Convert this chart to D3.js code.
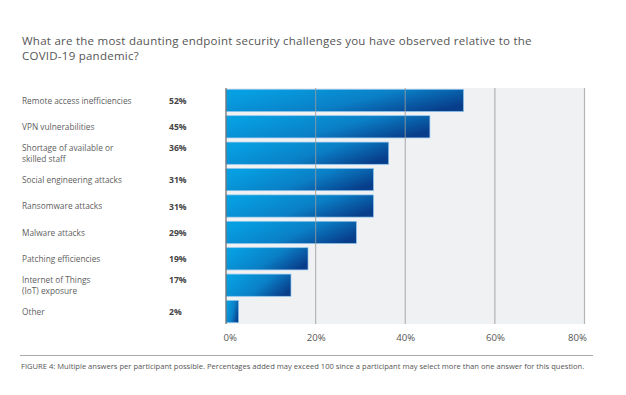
<!DOCTYPE html>
<html>
<head>
<meta charset="utf-8">
<script src="https://cdn.jsdelivr.net/npm/d3@7"></script>
<style>
  body { margin: 0; background: #fff; }
  text { font-family: "Open Sans", sans-serif; }
</style>
</head>
<body>
<div id="chart"></div>
<script>
// categories, shown label lines, printed percents and bar lengths
const categories = [
  ["Remote access inefficiencies"],
  ["VPN vulnerabilities"],
  ["Shortage of available or", "skilled staff"],
  ["Social engineering attacks"],
  ["Ransomware attacks"],
  ["Malware attacks"],
  ["Patching efficiencies"],
  ["Internet of Things", "(IoT) exposure"],
  ["Other"]
];
const pctLabels = ["52%", "45%", "36%", "31%", "31%", "29%", "19%", "17%", "2%"];
const values = [53.0, 45.5, 36.3, 32.9, 32.9, 29.1, 18.3, 14.5, 2.8];
const xTicks = [0, 20, 40, 60, 80];
const titleLines = ["What are the most daunting endpoint security challenges you have observed relative to the", "COVID-19 pandemic?"];

const W = 626, H = 395;
const plot = { left: 226, right: 584.5, top: 88, bottom: 324 };

const svg = d3.select("#chart").append("svg")
  .attr("width", W)
  .attr("height", H);

const defs = svg.append("defs");
const grad = defs.append("linearGradient")
  .attr("id", "barGrad")
  .attr("x1", "0%").attr("y1", "30%")
  .attr("x2", "100%").attr("y2", "70%");
grad.append("stop").attr("offset", "0%").attr("stop-color", "#06a0e2");
grad.append("stop").attr("offset", "55%").attr("stop-color", "#0a7fc6");
grad.append("stop").attr("offset", "100%").attr("stop-color", "#083d8a");

// title, one text per line
svg.selectAll(".title")
  .data(titleLines)
  .enter().append("text")
  .attr("class", "title")
  .attr("x", 22)
  .attr("y", (d, i) => 44.5 + i * 15)
  .attr("fill", "#555")
  .style("font-size", "11.5px")
  .style("letter-spacing", "0.25px")
  .text(d => d);

let x = d3.scaleLinear()
  .domain([0, 80])
  .range([plot.left, plot.right]);

let y = d3.scaleBand()
  .domain(d3.range(categories.length))
  .range([plot.top, plot.bottom])
  .paddingInner(0.16)
  .paddingOuter(0.05);

// plot background
svg.append("rect")
  .attr("x", plot.left).attr("y", plot.top)
  .attr("width", plot.right - plot.left)
  .attr("height", plot.bottom - plot.top)
  .attr("fill", "#f0f1f3");

// bars
svg.selectAll(".bar")
  .data(values)
  .enter().append("rect")
  .attr("class", "bar")
  .attr("x", x(0))
  .attr("y", (d, i) => y(i))
  .attr("width", d => x(d) - x(0))
  .attr("height", y.bandwidth())
  .attr("fill", "url(#barGrad)")
  .attr("stroke", "#8cc4ec")
  .attr("stroke-width", 0.7);

// gridlines drawn over bars
svg.selectAll(".grid")
  .data(xTicks.slice(1))
  .enter().append("line")
  .attr("class", "grid")
  .attr("x1", d => x(d)).attr("x2", d => x(d))
  .attr("y1", plot.top).attr("y2", plot.bottom)
  .attr("stroke", "#9a9a9a")
  .attr("stroke-opacity", 0.7)
  .attr("stroke-width", 1.2);

svg.append("line")
  .attr("x1", x(0)).attr("x2", x(0))
  .attr("y1", plot.top).attr("y2", plot.bottom)
  .attr("stroke", "#6b6b6b")
  .attr("stroke-width", 1.2);

// x axis labels
let xAxis = svg.append("g")
  .attr("transform", "translate(0," + (plot.bottom + 3) + ")")
  .call(d3.axisBottom(x).tickValues(xTicks).tickFormat(d => d + "%").tickSize(0).tickPadding(7));
xAxis.select(".domain").remove();
xAxis.selectAll("text")
  .attr("fill", "#555")
  .style("font-family", "'Open Sans', sans-serif")
  .style("font-size", "9.6px");
xAxis.selectAll(".tick").filter(d => d == 0).select("text")
  .attr("text-anchor", "start").attr("dx", -3);
xAxis.selectAll(".tick").filter(d => d == 80).select("text")
  .attr("text-anchor", "end").attr("dx", 2);

// category labels
let rows = svg.selectAll(".row")
  .data(categories)
  .enter().append("g")
  .attr("class", "row")
  .attr("transform", (d, i) => "translate(0," + (y(i) + y.bandwidth() / 2) + ")");

rows.append("text")
  .attr("x", 22)
  .attr("fill", "#606060")
  .style("font-size", "8.3px")
  .selectAll("tspan")
  .data(d => d.map((t, j) => ({ t: t, j: j, n: d.length })))
  .enter().append("tspan")
  .attr("x", 22)
  .attr("y", d => d.n > 1 ? (d.j ? 6 : -5) : 0.5)
  .attr("dy", "0.35em")
  .text(d => d.t);

rows.append("text")
  .attr("x", 169)
  .attr("y", d => d.length > 1 ? -5 : 0.5)
  .attr("dy", "0.35em")
  .attr("fill", "#444")
  .style("font-size", "8.6px")
  .style("font-weight", "bold")
  .text((d, i) => pctLabels[i]);

// footnote
svg.append("line")
  .attr("x1", 20).attr("x2", 593)
  .attr("y1", 355.5).attr("y2", 355.5)
  .attr("stroke", "#a8a8a8")
  .attr("stroke-width", 1);

svg.append("text")
  .attr("x", 21).attr("y", 369)
  .attr("fill", "#555")
  .style("font-size", "7.6px")
  .text("FIGURE 4: Multiple answers per participant possible. Percentages added may exceed 100 since a participant may select more than one answer for this question.");
</script>
</body>
</html>
